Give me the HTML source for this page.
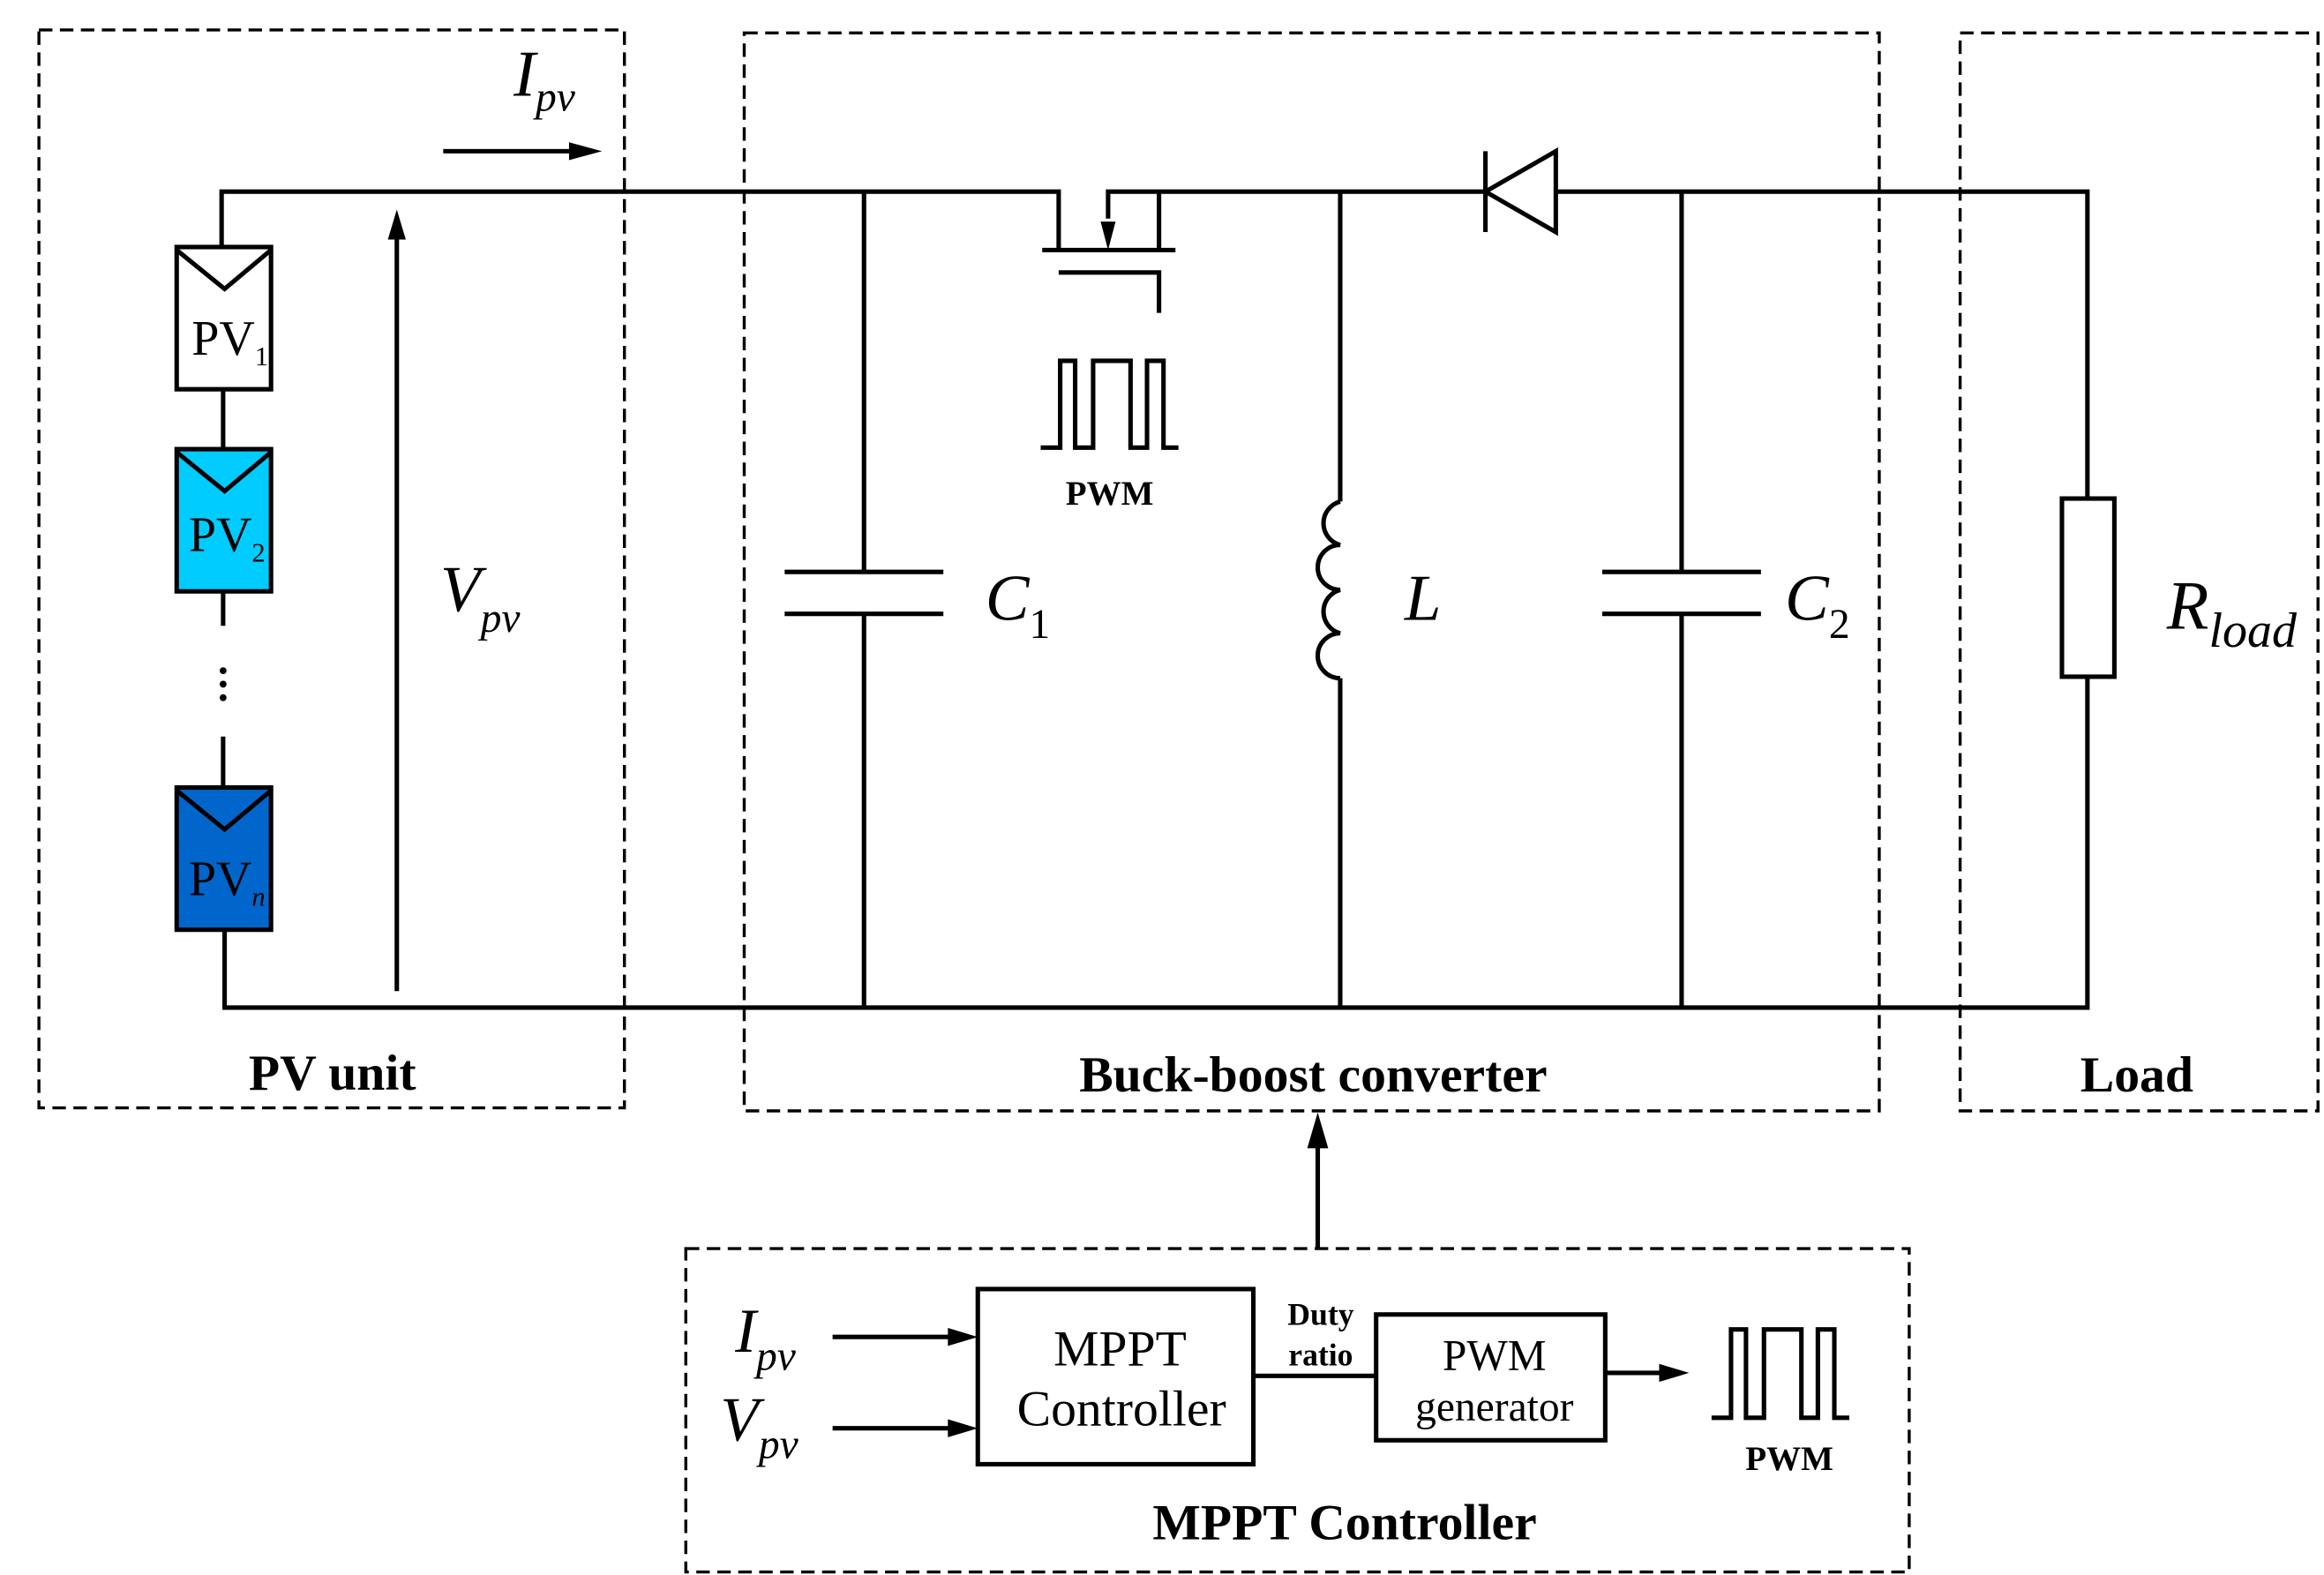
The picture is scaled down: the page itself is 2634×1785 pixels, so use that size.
<!DOCTYPE html>
<html><head><style>html,body{margin:0;padding:0;background:#fff}svg{display:block}</style></head><body>
<svg width="2634" height="1785" viewBox="0 0 1552 1052" preserveAspectRatio="none" xmlns="http://www.w3.org/2000/svg" font-family="Liberation Serif, serif">
<g fill="none" stroke="#000" stroke-width="2" stroke-dasharray="9,5">
<rect x="26" y="20" width="391" height="720"/>
<rect x="497" y="22" width="758" height="720"/>
<rect x="1309" y="22" width="239" height="720"/>
<rect x="458" y="834" width="817" height="216"/>
</g>
<g fill="none" stroke="#000" stroke-width="3">
<polyline points="148,165 148,128 707,128 707,167"/>
<polyline points="740,146 740,128 1394,128 1394,333"/>
<line x1="774" y1="128" x2="774" y2="167"/>
<line x1="696" y1="167" x2="785" y2="167"/>
<polyline points="707,182 774,182 774,209"/>
<line x1="992" y1="101" x2="992" y2="155"/>
<polygon points="992,128 1039,101 1039,155" fill="#fff"/>
<polyline points="695,299 708,299 708,241 718,241 718,299 730,299 730,241 755,241 755,299 766,299 766,241 777,241 777,299 787,299"/>
<line x1="149" y1="260" x2="149" y2="300"/>
<line x1="149" y1="395" x2="149" y2="418"/>
<line x1="149" y1="492" x2="149" y2="526"/>
<polyline points="150,621 150,673 1394,673 1394,452"/>
<line x1="265" y1="662" x2="265" y2="152"/>
<line x1="296" y1="101" x2="390" y2="101"/>
<line x1="577" y1="128" x2="577" y2="382"/>
<line x1="577" y1="410" x2="577" y2="673"/>
<line x1="524" y1="382" x2="630" y2="382"/>
<line x1="524" y1="410" x2="630" y2="410"/>
<line x1="1123" y1="128" x2="1123" y2="382"/>
<line x1="1123" y1="410" x2="1123" y2="673"/>
<line x1="1070" y1="382" x2="1176" y2="382"/>
<line x1="1070" y1="410" x2="1176" y2="410"/>
<line x1="895" y1="128" x2="895" y2="335"/>
<path d="M895,335 A15,15 0 0 0 895,364 A15,15 0 0 0 895,394 A15,15 0 0 0 895,423 A15,15 0 0 0 895,453"/>
<line x1="895" y1="453" x2="895" y2="673"/>
<rect x="1377" y="333" width="35" height="119" fill="#fff"/>
<line x1="880" y1="834" x2="880" y2="765"/>
<rect x="653" y="861" width="184" height="117"/>
<rect x="919" y="878" width="153" height="84"/>
<line x1="837" y1="919" x2="919" y2="919"/>
<line x1="1072" y1="917" x2="1112" y2="917"/>
<line x1="556" y1="893" x2="637" y2="893"/>
<line x1="556" y1="954" x2="637" y2="954"/>
<polyline points="1143,947 1156,947 1156,888 1166,888 1166,947 1178,947 1178,888 1203,888 1203,947 1214,947 1214,888 1225,888 1225,947 1235,947"/>
</g>
<g stroke="#000" stroke-width="3">
<rect x="118" y="165" width="63" height="95" fill="#fff"/>
<polyline points="118,167 150,193 181,167" fill="none"/>
<rect x="118" y="300" width="63" height="95" fill="#00CCFF"/>
<polyline points="118,302 150,328 181,302" fill="none"/>
<rect x="118" y="526" width="63" height="95" fill="#0066CC"/>
<polyline points="118,528 150,554 181,528" fill="none"/>
</g>
<g fill="#000">
<circle cx="149" cy="448" r="2.3"/><circle cx="149" cy="457" r="2.3"/><circle cx="149" cy="466" r="2.3"/>
<polygon points="265,140 259,160 271,160"/>
<polygon points="402,101 380,95 380,107"/>
<polygon points="740,167 735,148 745,148"/>
<polygon points="880,743 873,767 887,767"/>
<polygon points="653,893 633,887 633,899"/>
<polygon points="653,954 633,948 633,960"/>
<polygon points="1128,917 1108,911 1108,923"/>
</g>
<g fill="#000" font-size="33">
<text x="128" y="237">PV<tspan font-size="18" dy="7">1</tspan></text>
<text x="126" y="368">PV<tspan font-size="18" dy="7">2</tspan></text>
<text x="126" y="598">PV<tspan font-size="18" dy="7" font-style="italic">n</tspan></text>
</g>
<g fill="#000" font-style="italic">
<text x="343" y="64" font-size="44">I<tspan font-size="28" dy="10">pv</tspan></text>
<text x="294" y="408" font-size="44">V<tspan font-size="28" dy="14">pv</tspan></text>
<text x="658" y="414" font-size="44">C<tspan font-size="28" dy="12" font-style="normal">1</tspan></text>
<text x="938" y="414" font-size="44">L</text>
<text x="1192" y="414" font-size="44">C<tspan font-size="28" dy="12" font-style="normal">2</tspan></text>
<text x="1447" y="420" font-size="46">R<tspan font-size="33" dy="12">load</tspan></text>
<text x="491" y="903" font-size="42">I<tspan font-size="28" dy="12">pv</tspan></text>
<text x="481" y="962" font-size="42">V<tspan font-size="28" dy="12">pv</tspan></text>
</g>
<g fill="#000" font-weight="bold" text-anchor="middle">
<text x="741" y="337" font-size="23">PWM</text>
<text x="222" y="728" font-size="34">PV unit</text>
<text x="877" y="729" font-size="34">Buck-boost converter</text>
<text x="1427" y="729" font-size="34">Load</text>
<text x="898" y="1028" font-size="34">MPPT Controller</text>
<text x="1195" y="982" font-size="23">PWM</text>
<text x="882" y="885" font-size="21">Duty</text>
<text x="882" y="912" font-size="21">ratio</text>
</g>
<g fill="#000" text-anchor="middle">
<text x="748" y="912" font-size="34">MPPT</text>
<text x="749" y="952" font-size="34">Controller</text>
<text x="998" y="915" font-size="29">PWM</text>
<text x="998" y="949" font-size="28">generator</text>
</g>
</svg>
</body></html>
